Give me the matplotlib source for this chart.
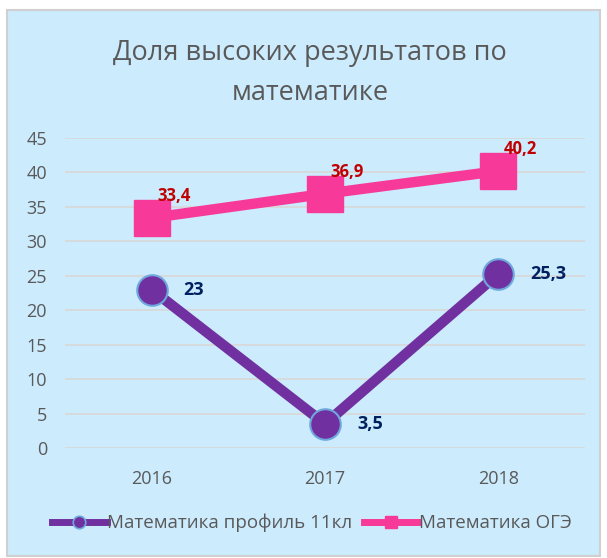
import matplotlib
matplotlib.use("Agg")
import matplotlib.pyplot as plt
from matplotlib.patches import Rectangle
from matplotlib.lines import Line2D

years = ["2016", "2017", "2018"]
profil = [23, 3.5, 25.3]
oge = [33.4, 36.9, 40.2]
profil_labels = ["23", "3,5", "25,3"]
oge_labels = ["33,4", "36,9", "40,2"]
yticks = [0, 5, 10, 15, 20, 25, 30, 35, 40, 45]

plt.rcParams['font.family'] = ['Open Sans', 'DejaVu Sans']

W, H = 607, 558
fig = plt.figure(figsize=(W/100, H/100), dpi=100)
fig.patch.set_facecolor('white')
bg = '#CCEBFD'
fig.patches.append(Rectangle((7/W, 1-556/H), (600-7)/W, (556-10)/H, transform=fig.transFigure,
                             facecolor=bg, edgecolor='#D0D0D0', lw=1.5, zorder=-5))

ax = fig.add_axes([65/W, 1-448/H, (585-65)/W, (448-138)/H])
ax.set_facecolor('none')
ax.set_zorder(2)
x = list(range(len(years)))

purple = '#7030A0'
pink = '#F73A9A'
ax.plot(x, oge, color=pink, lw=7.5, marker='s', markersize=26, markerfacecolor=pink,
        markeredgecolor=pink, zorder=3)
ax.plot(x, profil, color=purple, lw=7.5, marker='o', markersize=22, markerfacecolor=purple,
        markeredgecolor='#6FA8DC', markeredgewidth=1.5, zorder=4)

for xi, v, t in zip(x, oge, oge_labels):
    ax.annotate(t, (xi, v), xytext=(4, 16), textcoords='offset points', ha='left', va='center',
                color='#C00000', fontsize=12, fontweight='bold', zorder=5)
for xi, v, t in zip(x, profil, profil_labels):
    ax.annotate(t, (xi, v), xytext=(23, 0), textcoords='offset points', ha='left', va='center',
                color='#002060', fontsize=13, fontweight='bold', zorder=5)

ax.set_xlim(-0.5, 2.5)
ax.set_ylim(0, 45)
ax.set_yticks(yticks)
ax.set_xticks(x)
ax.set_xticklabels(years)
ax.grid(axis='y', color='#D9D9D9', lw=1.3, zorder=0)
ax.set_axisbelow(True)
for s in ax.spines.values():
    s.set_visible(False)
ax.tick_params(length=0, labelsize=13, colors='#595959')
ax.tick_params(axis='y', pad=13)
ax.tick_params(axis='x', pad=16)

fig.text(310/W, 1-60/H, "Доля высоких результатов по", ha='center', va='baseline',
         fontsize=19.5, color='#595959')
fig.text(310/W, 1-100/H, "математике", ha='center', va='baseline',
         fontsize=19.5, color='#595959')

handles = [Line2D([], [], color=purple, lw=5, marker='o', markersize=9, markerfacecolor=purple,
                  markeredgecolor='#6FA8DC', markeredgewidth=1.2),
           Line2D([], [], color=pink, lw=5, marker='s', markersize=9, markerfacecolor=pink,
                  markeredgecolor=pink)]
fig.legend(handles, ["Математика профиль 11кл", "Математика ОГЭ"], loc='center',
           bbox_to_anchor=(312/W, 1-523/H), ncol=2, frameon=False, fontsize=13.5,
           labelcolor='#595959', handlelength=2.9, handletextpad=0.05, columnspacing=0.6,
           borderaxespad=0, borderpad=0)

fig.savefig('out.png', dpi=100, facecolor='white')
